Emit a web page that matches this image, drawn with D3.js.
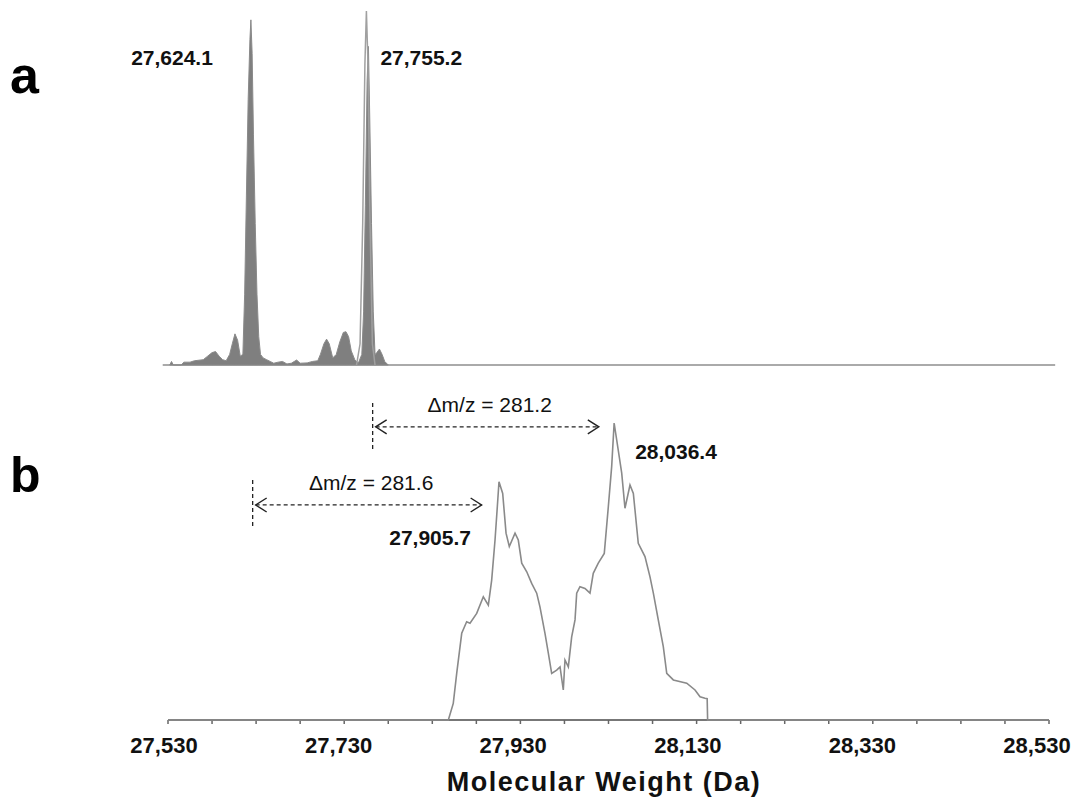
<!DOCTYPE html>
<html>
<head>
<meta charset="utf-8">
<script src="https://cdn.jsdelivr.net/npm/d3@7"></script>
<style>
  body { margin: 0; background: #fff; }
  text { font-family: "Liberation Sans", Arial, sans-serif; }
</style>
</head>
<body>
<div id="chart"></div>
<script>
// panel a: deconvoluted spectrum (filled) + overlaid trace of second peak
const spectrumA = [
  [27532, 0], [27534, 1], [27536, 0], [27545, 0], [27548, 0.8], [27555, 0.8],
  [27560, 1.2], [27570, 1.5], [27575, 2.5], [27580, 3.5], [27584, 3.8], [27588, 2.5],
  [27592, 1.5], [27596, 1.2], [27600, 3], [27603, 6], [27606, 8.8], [27609, 7],
  [27612, 2.5], [27615, 3], [27617, 20], [27619, 48], [27621, 75], [27623, 92],
  [27624.1, 97.5], [27625.5, 88], [27627, 65], [27629, 40], [27631, 20], [27633, 8],
  [27635, 3], [27638, 2], [27642, 1.5], [27646, 1], [27650, 0.5], [27655, 0.8],
  [27660, 1], [27665, 0.3], [27670, 0.5], [27676, 1.4], [27680, 0.5], [27688, 0.6],
  [27694, 1], [27700, 1.2], [27703, 3], [27707, 6], [27710, 7.3], [27713, 6],
  [27717, 2], [27721, 3], [27725, 6.5], [27729, 9.2], [27732, 9.4], [27735, 8],
  [27738, 4], [27742, 1.5], [27746, 0.5], [27750, 3], [27752, 15], [27754, 45],
  [27756, 80], [27757.5, 90], [27759, 70], [27761, 40], [27763, 15], [27765, 3],
  [27767, 3.5], [27770, 4.5], [27773, 3], [27776, 1], [27780, 0]
];
const traceA = [
  [27744, 0], [27748, 6], [27751, 40], [27753.5, 85], [27755.2, 100],
  [27757, 85], [27759, 45], [27762, 6], [27765, 0]
];

// panel b: charge-deconvoluted profile after modification
const spectrumB = [
  [27530, 0], [27848.2, 0], [27853.8, 5.6], [27857.7, 15.7], [27863.4, 29.2],
  [27869.0, 33.1], [27872.8, 32.6], [27880.4, 35.9], [27887.9, 41.5], [27893.6, 38.7],
  [27897.4, 47.1], [27901.2, 60.6], [27903.8, 71.8], [27905.7, 80.2], [27909.9, 76.3],
  [27913.7, 62.9], [27917.4, 58.4], [27923.9, 62.9], [27927.6, 60.6], [27931.5, 52.8],
  [27937.2, 49.9], [27942.8, 46.0], [27948.5, 42.7], [27952.2, 38.1], [27957.9, 29.2],
  [27961.7, 22.5], [27965.5, 15.7], [27971.2, 16.8], [27975.0, 17.9], [27978.7, 10.1],
  [27980.6, 20.2], [27984.4, 17.9], [27988.2, 28.0], [27992.0, 33.7], [27993.9, 42.7],
  [27997.6, 44.9], [28003.3, 44.3], [28009.0, 42.7], [28012.7, 49.4], [28018.4, 52.8],
  [28025.2, 56.1], [28029.8, 71.8], [28033.6, 85.3], [28036.4, 100], [28045.0, 83.1],
  [28048.7, 71.3], [28054.4, 79.1], [28058.2, 76.3], [28063.8, 59.5], [28071.4, 55.0],
  [28077.1, 48.2], [28080.9, 42.7], [28086.5, 33.7], [28092.2, 24.7], [28096.1, 15.7],
  [28103.6, 13.5], [28118.8, 12.4], [28128.2, 10.1], [28133.9, 7.8], [28139.5, 7.3],
  [28142.0, 7.2], [28142.5, 0], [28530, 0]
];

const tickLabels = [27530, 27730, 27930, 28130, 28330, 28530];
const minorTicks = d3.range(27530, 28531, 50);

const peakLabelsA = [
  { mass: 27624.1, text: "27,624.1", side: "left" },
  { mass: 27755.2, text: "27,755.2", side: "right" }
];
const peakLabelsB = [
  { mass: 27905.7, text: "27,905.7", side: "left" },
  { mass: 28036.4, text: "28,036.4", side: "right" }
];
// mass-shift arrows: dashed start marker, arrow span, level (panel b units)
const shifts = [
  { from: 27762.3, to: 28019, level: 98.7, top: 106.7, bottom: 90.9, text: "\u0394m/z = 281.2" },
  { from: 27626.1, to: 27886, level: 72.4, top: 80.8, bottom: 64.6, text: "\u0394m/z = 281.6" }
];

const width = 1077, height = 808;
const svg = d3.select("#chart").append("svg")
  .attr("width", width)
  .attr("height", height);

const x = d3.scaleLinear().domain([27530, 28530]).range([168, 1049]);
const xLabel = d3.scaleLinear().domain([27530, 28530]).range([164, 1037]);
const yA = d3.scaleLinear().domain([0, 100]).range([365, 11]);
const yB = d3.scaleLinear().domain([0, 100]).range([720, 423]);

// ---- panel a
svg.append("line")
  .attr("x1", x(27524)).attr("x2", x(28537))
  .attr("y1", yA(0)).attr("y2", yA(0))
  .attr("stroke", "#aaa").attr("stroke-width", 2);

svg.append("path")
  .datum(spectrumA)
  .attr("d", d3.area().x(d => x(d[0])).y0(yA(0)).y1(d => yA(d[1])))
  .attr("fill", "#7f7f7f")
  .attr("stroke", "#8a8a8a")
  .attr("stroke-width", 1);

svg.append("path")
  .datum(traceA)
  .attr("d", d3.line().x(d => x(d[0])).y(d => yA(d[1])))
  .attr("fill", "none")
  .attr("stroke", "#a0a0a0")
  .attr("stroke-width", 1.5);

svg.selectAll(".peakA")
  .data(peakLabelsA)
  .enter().append("text")
  .attr("x", d => d.side === "left" ? x(d.mass) - 38 : x(d.mass) + 14)
  .attr("y", 65)
  .attr("text-anchor", d => d.side === "left" ? "end" : "start")
  .attr("font-size", "21px")
  .attr("font-weight", "bold")
  .attr("fill", "#111")
  .text(d => d.text);

// ---- panel b
const axis = svg.append("g");
axis.append("line")
  .attr("x1", x(27530)).attr("x2", x(28530))
  .attr("y1", yB(0)).attr("y2", yB(0))
  .attr("stroke", "#777").attr("stroke-width", 2);
axis.selectAll(".tick")
  .data(minorTicks)
  .enter().append("line")
  .attr("x1", d => x(d)).attr("x2", d => x(d))
  .attr("y1", yB(0)).attr("y2", yB(0) + 4)
  .attr("stroke", "#666").attr("stroke-width", 1.5);

svg.append("path")
  .datum(spectrumB)
  .attr("d", d3.line().x(d => x(d[0])).y(d => yB(d[1])))
  .attr("fill", "none")
  .attr("stroke", "#8a8a8a")
  .attr("stroke-width", 1.6);

axis.selectAll(".tickLabel")
  .data(tickLabels)
  .enter().append("text")
  .attr("x", d => xLabel(d))
  .attr("y", 753)
  .attr("text-anchor", "middle")
  .attr("font-size", "22px")
  .attr("font-weight", "bold")
  .attr("fill", "#111")
  .text(d => d3.format(",")(d));

svg.append("text")
  .attr("x", 604)
  .attr("y", 791)
  .attr("text-anchor", "middle")
  .attr("font-size", "27px")
  .attr("font-weight", "bold")
  .attr("letter-spacing", "1.5px")
  .attr("fill", "#111")
  .text("Molecular Weight (Da)");

svg.selectAll(".peakB")
  .data(peakLabelsB)
  .enter().append("text")
  .attr("x", d => d.side === "left" ? x(d.mass) - 28 : x(d.mass) + 21)
  .attr("y", d => d.side === "left" ? 545 : 459)
  .attr("text-anchor", d => d.side === "left" ? "end" : "start")
  .attr("font-size", "21px")
  .attr("font-weight", "bold")
  .attr("fill", "#111")
  .text(d => d.text);

// mass shift arrows
const shiftG = svg.selectAll(".shift")
  .data(shifts)
  .enter().append("g");

shiftG.append("line")
  .attr("x1", d => x(d.from)).attr("x2", d => x(d.from))
  .attr("y1", d => yB(d.top)).attr("y2", d => yB(d.bottom))
  .attr("stroke", "#222").attr("stroke-width", 1.3)
  .attr("stroke-dasharray", "4,3");

shiftG.append("line")
  .attr("x1", d => x(d.from) + 3).attr("x2", d => x(d.to))
  .attr("y1", d => yB(d.level)).attr("y2", d => yB(d.level))
  .attr("stroke", "#222").attr("stroke-width", 1.3)
  .attr("stroke-dasharray", "4,3");

shiftG.append("path")
  .attr("d", d => {
    const x0 = x(d.from) + 3, y0 = yB(d.level);
    return `M${x0 + 11},${y0 - 7}L${x0},${y0}L${x0 + 11},${y0 + 7}`;
  })
  .attr("fill", "none").attr("stroke", "#222").attr("stroke-width", 1.4);

shiftG.append("path")
  .attr("d", d => {
    const x1 = x(d.to), y0 = yB(d.level);
    return `M${x1 - 11},${y0 - 7}L${x1},${y0}L${x1 - 11},${y0 + 7}`;
  })
  .attr("fill", "none").attr("stroke", "#222").attr("stroke-width", 1.4);

shiftG.append("text")
  .attr("x", d => (x(d.from) + x(d.to)) / 2 + 4)
  .attr("y", d => yB(d.level) - 15)
  .attr("text-anchor", "middle")
  .attr("font-size", "21px")
  .attr("fill", "#111")
  .text(d => d.text);

// panel letters
svg.append("text").attr("x", 10).attr("y", 93)
  .attr("font-size", "52px").attr("font-weight", "bold").attr("fill", "#000").text("a");
svg.append("text").attr("x", 10).attr("y", 492)
  .attr("font-size", "50px").attr("font-weight", "bold").attr("fill", "#000").text("b");
</script>
</body>
</html>
